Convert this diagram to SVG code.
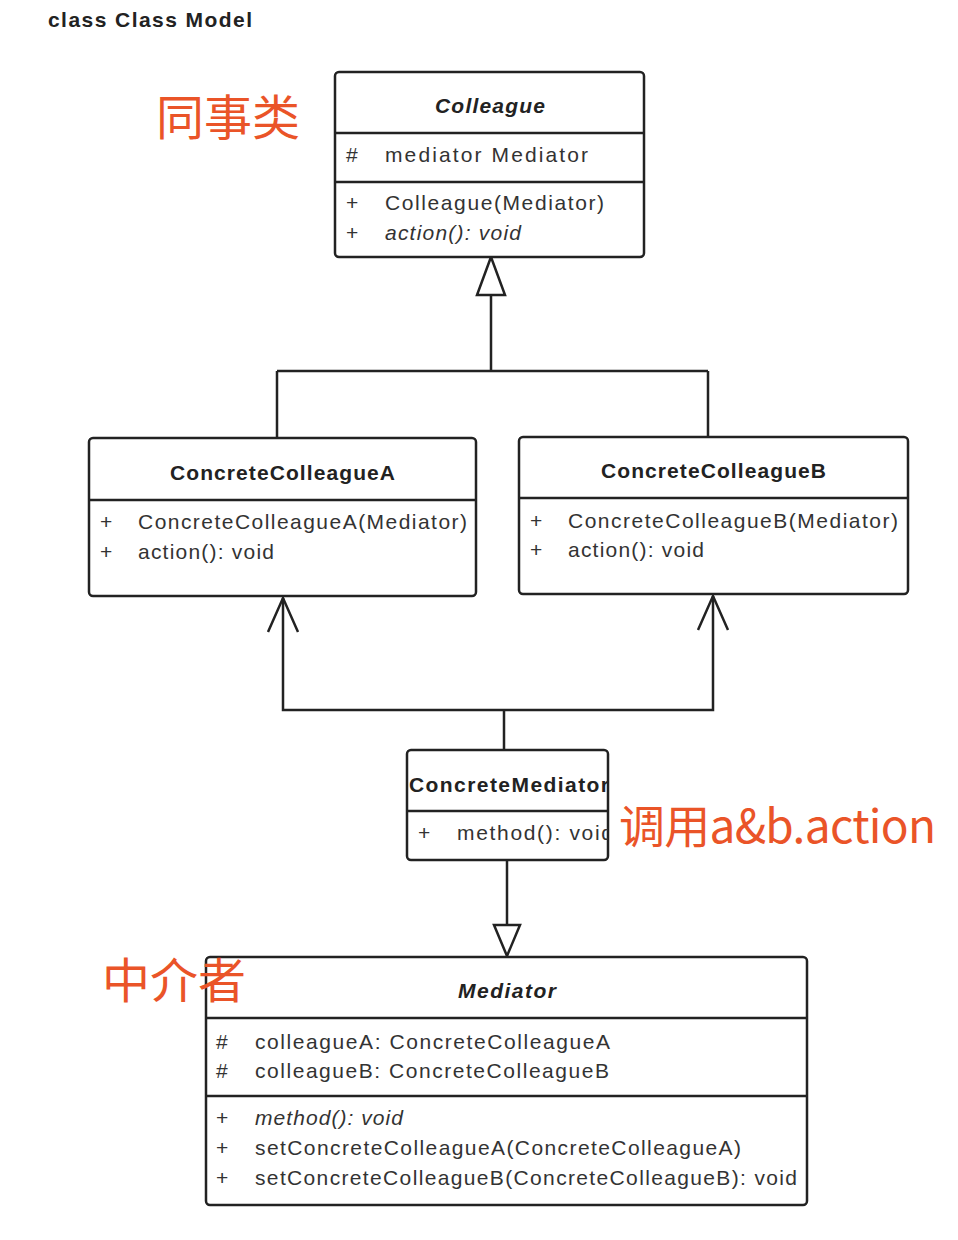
<svg xmlns="http://www.w3.org/2000/svg" width="958" height="1240" viewBox="0 0 958 1240">
<style>
.box{fill:#fff;stroke:#222;stroke-width:2.5}
.div{stroke:#222;stroke-width:2.5}
.t{font-family:"Liberation Sans",Arial,sans-serif;font-size:21px;fill:#333}
.title{font-family:"Liberation Sans",Arial,sans-serif;font-size:21px;font-weight:bold;fill:#222}
.it{font-style:italic}
.cn{font-family:"Noto Sans CJK SC","Noto Sans",sans-serif;font-size:48px;fill:#ea5428}
.cn2{font-family:"Noto Sans CJK SC","Noto Sans",sans-serif;font-size:46px;fill:#ea5428}
.ln{fill:none;stroke:#222;stroke-width:2.5}
.tri{fill:#fff;stroke:#222;stroke-width:2.5}
</style>
<defs>
<clipPath id="cm"><rect x="407" y="750" width="201" height="110"/></clipPath>
</defs>
<text class="title" x="48" y="27" textLength="204" lengthAdjust="spacing">class Class Model</text>
<g id="connectors">
<path class="ln" d="M491,295 V371 M277,371 H708 M277,371 V438 M708,371 V437"/>
<polygon class="tri" points="491,257 477,295 505,295"/>
<path class="ln" d="M283,598 V710 H713 V596 M504,710 V750"/>
<path class="ln" d="M268,632 L283,598 L298,632 M698,630 L713,596 L728,630"/>
<path class="ln" d="M507,860 V925"/>
<polygon class="tri" points="507,956 494,925 520,925"/>
</g>
<g id="colleague">
<rect class="box" x="335" y="72" width="309" height="185" rx="4"/>
<line class="div" x1="335" y1="133" x2="644" y2="133"/>
<line class="div" x1="335" y1="182" x2="644" y2="182"/>
<text class="title it" x="435" y="113" textLength="110" lengthAdjust="spacing">Colleague</text>
<text class="t" x="346" y="162">#</text>
<text class="t" x="385" y="162" textLength="203" lengthAdjust="spacing">mediator Mediator</text>
<text class="t" x="346" y="210">+</text>
<text class="t" x="385" y="210" textLength="219" lengthAdjust="spacing">Colleague(Mediator)</text>
<text class="t" x="346" y="240">+</text>
<text class="t it" x="385" y="240" textLength="136" lengthAdjust="spacing">action(): void</text>
</g>
<g id="concreteColleagueA">
<rect class="box" x="89" y="438" width="387" height="158" rx="4"/>
<line class="div" x1="89" y1="500" x2="476" y2="500"/>
<text class="title" x="170" y="480" textLength="225" lengthAdjust="spacing">ConcreteColleagueA</text>
<text class="t" x="100" y="529">+</text>
<text class="t" x="138" y="529" textLength="329" lengthAdjust="spacing">ConcreteColleagueA(Mediator)</text>
<text class="t" x="100" y="559">+</text>
<text class="t" x="138" y="559" textLength="136" lengthAdjust="spacing">action(): void</text>
</g>
<g id="concreteColleagueB">
<rect class="box" x="519" y="437" width="389" height="157" rx="4"/>
<line class="div" x1="519" y1="498" x2="908" y2="498"/>
<text class="title" x="601" y="478" textLength="225" lengthAdjust="spacing">ConcreteColleagueB</text>
<text class="t" x="530" y="528">+</text>
<text class="t" x="568" y="528" textLength="330" lengthAdjust="spacing">ConcreteColleagueB(Mediator)</text>
<text class="t" x="530" y="557">+</text>
<text class="t" x="568" y="557" textLength="136" lengthAdjust="spacing">action(): void</text>
</g>
<g id="concreteMediator">
<rect class="box" x="407" y="750" width="201" height="110" rx="4"/>
<line class="div" x1="407" y1="811" x2="608" y2="811"/>
<g clip-path="url(#cm)">
<text class="title" x="409" y="792" textLength="200" lengthAdjust="spacing">ConcreteMediator</text>
<text class="t" x="418" y="840">+</text>
<text class="t" x="457" y="840" textLength="156" lengthAdjust="spacing">method(): void</text>
</g>
</g>
<g id="mediator">
<rect class="box" x="206" y="957" width="601" height="248" rx="4"/>
<line class="div" x1="206" y1="1018" x2="807" y2="1018"/>
<line class="div" x1="206" y1="1096" x2="807" y2="1096"/>
<text class="title it" x="458" y="998" textLength="98" lengthAdjust="spacing">Mediator</text>
<text class="t" x="216" y="1049">#</text>
<text class="t" x="255" y="1049" textLength="355" lengthAdjust="spacing">colleagueA: ConcreteColleagueA</text>
<text class="t" x="216" y="1078">#</text>
<text class="t" x="255" y="1078" textLength="354" lengthAdjust="spacing">colleagueB: ConcreteColleagueB</text>
<text class="t" x="216" y="1125">+</text>
<text class="t it" x="255" y="1125" textLength="148" lengthAdjust="spacing">method(): void</text>
<text class="t" x="216" y="1155">+</text>
<text class="t" x="255" y="1155" textLength="486" lengthAdjust="spacing">setConcreteColleagueA(ConcreteColleagueA)</text>
<text class="t" x="216" y="1185">+</text>
<text class="t" x="255" y="1185" textLength="542" lengthAdjust="spacing">setConcreteColleagueB(ConcreteColleagueB): void</text>
</g>
<g id="labels">
<text class="cn" x="156" y="135">同事类</text>
<text class="cn2" x="619" y="843" textLength="317" lengthAdjust="spacing">调用a&amp;b.action</text>
<text class="cn" x="102" y="998">中介者</text>
</g>
</svg>
